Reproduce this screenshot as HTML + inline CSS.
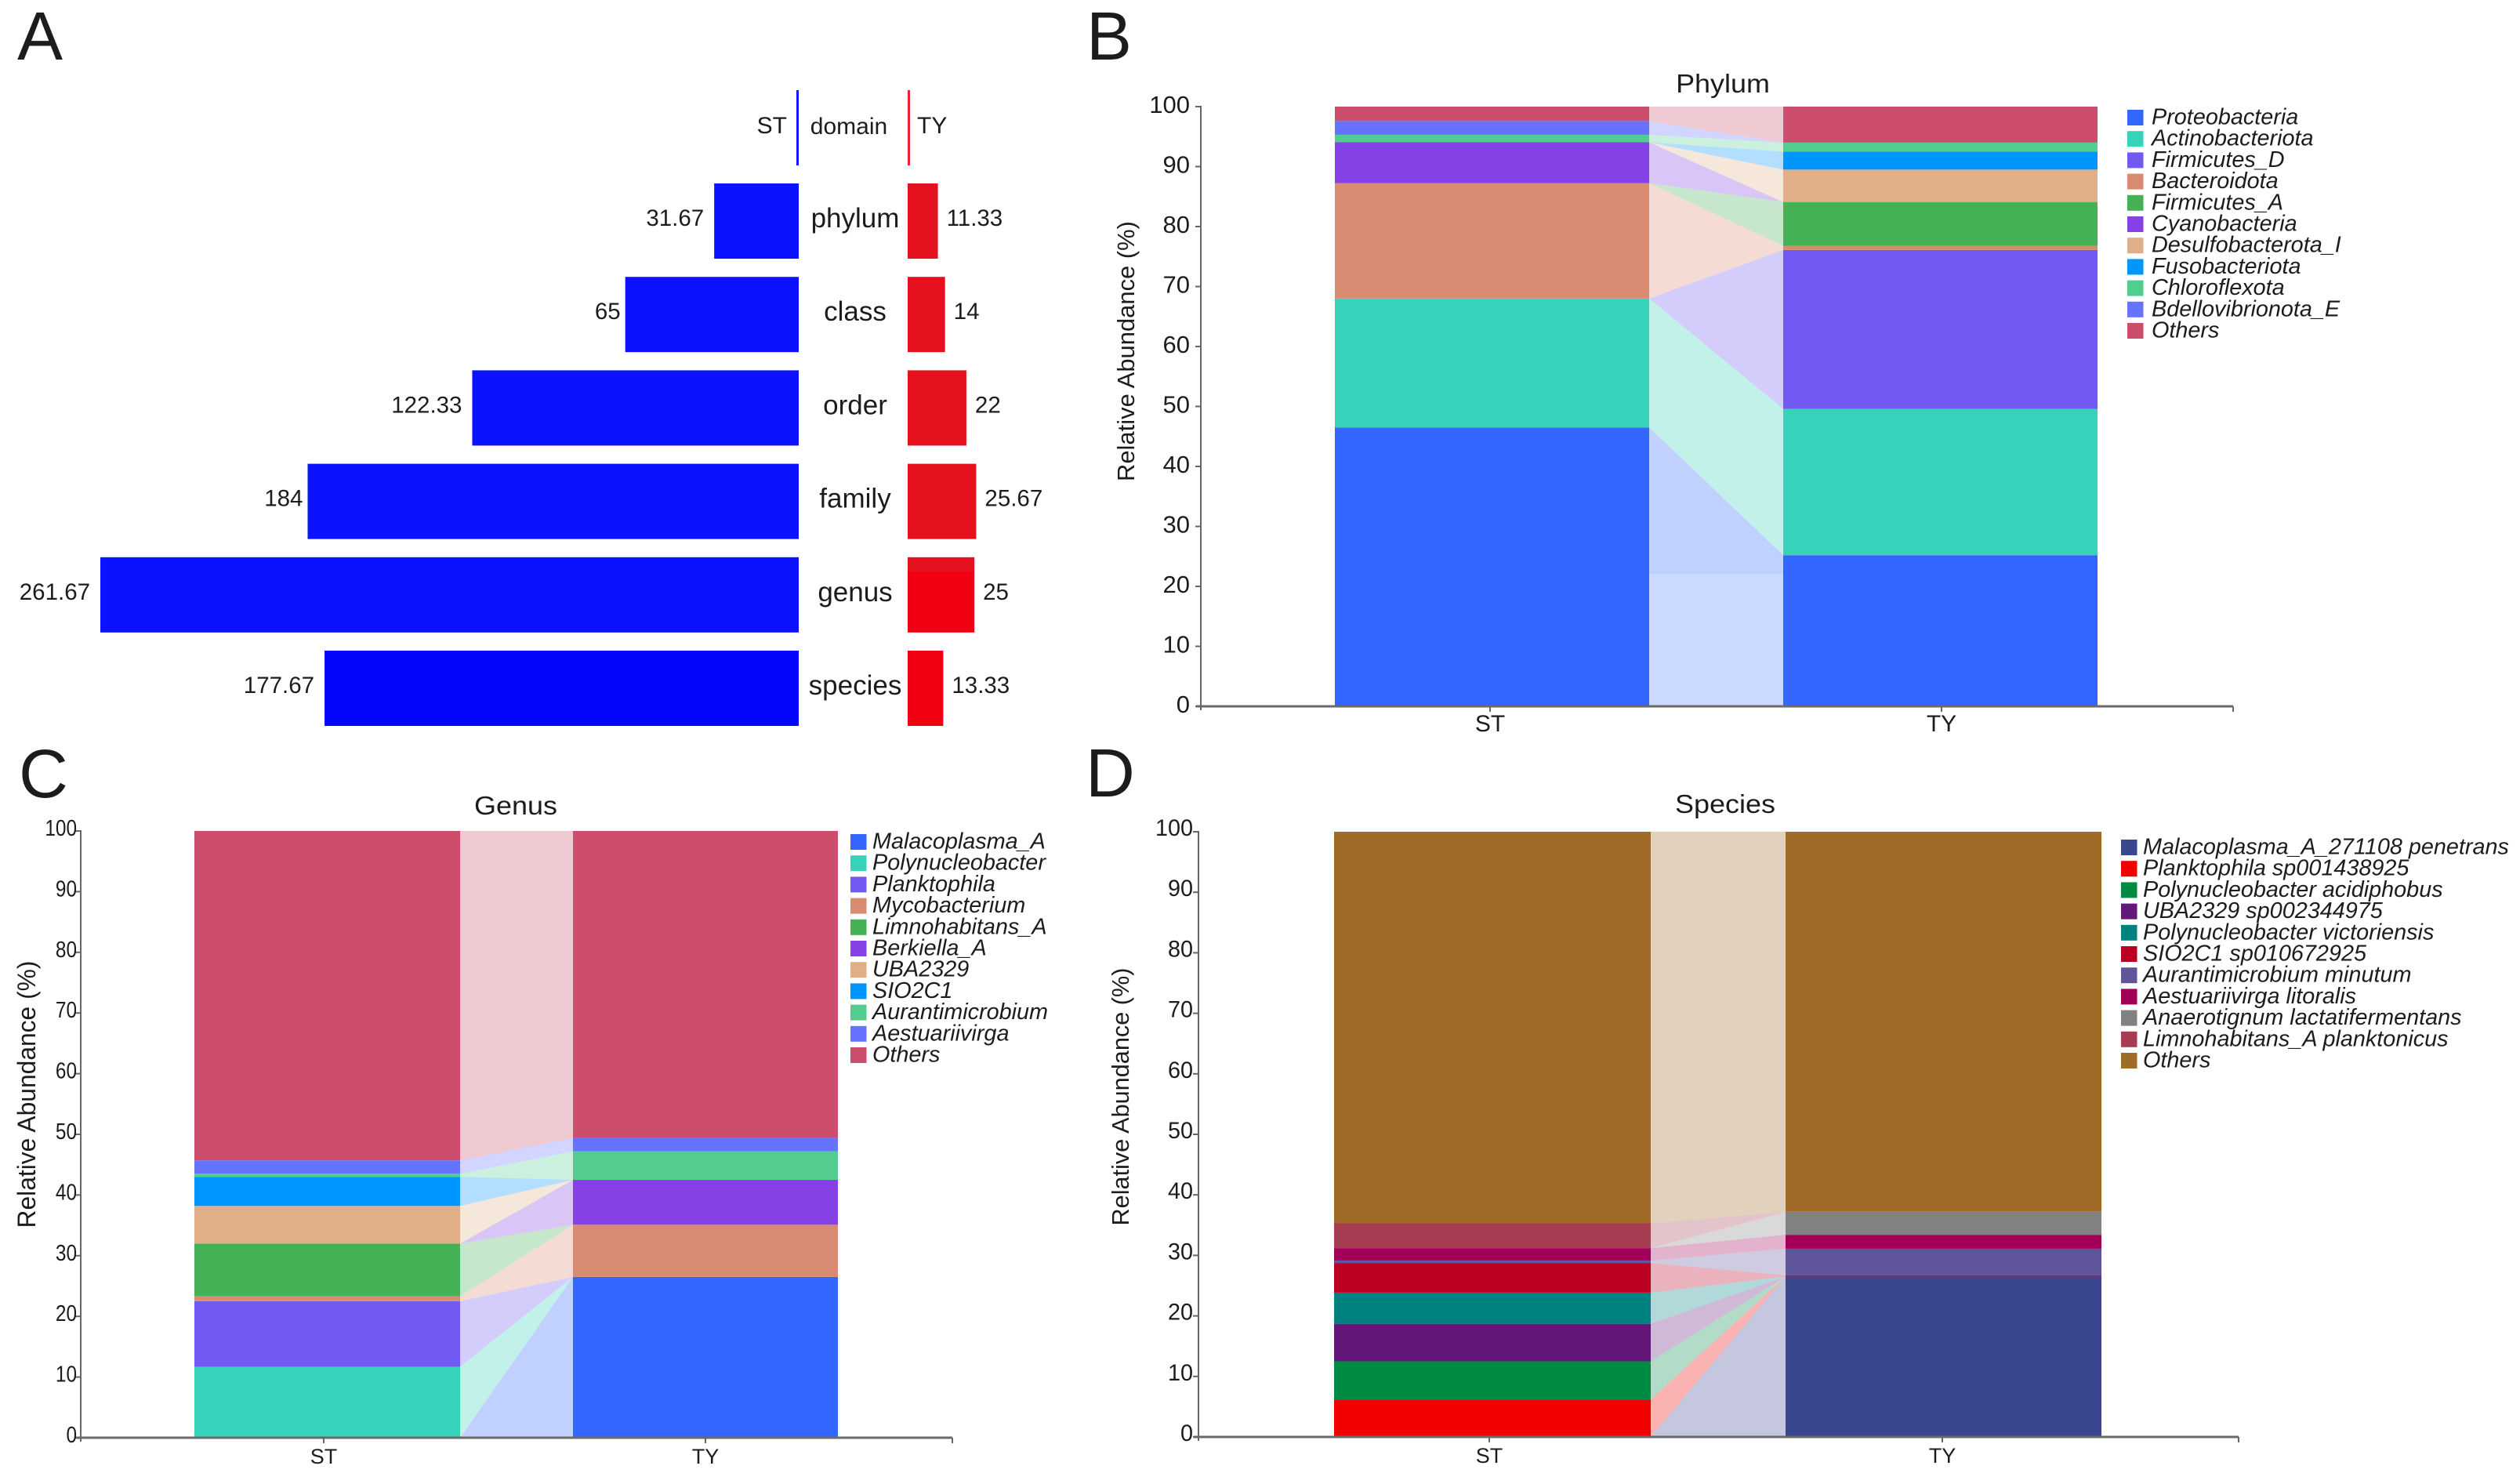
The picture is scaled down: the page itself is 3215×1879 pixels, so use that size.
<!DOCTYPE html>
<html lang="en">
<head>
<meta charset="utf-8">
<title>Taxonomic composition ST vs TY</title>
<style>
html,body{margin:0;padding:0;background:#fff}
svg{display:block}
text{font-family:"Liberation Sans",sans-serif;fill:#1c1c1c}
</style>
</head>
<body>
<svg id="figure" xmlns="http://www.w3.org/2000/svg" width="3215" height="1879" viewBox="0 0 3215 1879">
<defs>
<linearGradient id="stFill" gradientUnits="userSpaceOnUse" x1="0" y1="0" x2="0" y2="1879">
<stop offset="0.438" stop-color="#0a12ff"/><stop offset="0.438" stop-color="#0206fd"/>
</linearGradient>
<linearGradient id="tyFill" gradientUnits="userSpaceOnUse" x1="0" y1="0" x2="0" y2="1879">
<stop offset="0.388" stop-color="#e5111f"/><stop offset="0.388" stop-color="#f00010"/>
</linearGradient>
</defs>
<text x="22" y="76" font-size="87">A</text>
<text x="1386" y="76" font-size="87">B</text>
<text x="24" y="1017" font-size="87">C</text>
<text x="1385" y="1016" font-size="87">D</text>
</svg>
<script>
// ---- Panel A data ----
const rankCategories = ['phylum', 'class', 'order', 'family', 'genus', 'species'];
const rankST = [31.67, 65, 122.33, 184, 261.67, 177.67];
const rankTY = [11.33, 14, 22, 25.67, 25, 13.33];

// ---- Shared tick labels ----
const abundanceTicks = [0, 10, 20, 30, 40, 50, 60, 70, 80, 90, 100];
const groupLabels = ['ST', 'TY'];

// ---- Panel B data ----
const phylumNames = ['Proteobacteria', 'Actinobacteriota', 'Firmicutes_D', 'Bacteroidota', 'Firmicutes_A', 'Cyanobacteria', 'Desulfobacterota_I', 'Fusobacteriota', 'Chloroflexota', 'Bdellovibrionota_E', 'Others'];
const phylumST = [46.5, 21.5, 0, 19.25, 0, 6.8, 0, 0, 1.25, 2.3, 2.4];
const phylumTY = [25.2, 24.4, 26.5, 0.7, 7.3, 0, 5.4, 3, 1.5, 0, 6];
const phylumColors = ['#3366ff', '#36d2b9', '#7159f2', '#d98b72', '#45b156', '#8540e6', '#e0ae87', '#0096ff', '#52cc8f', '#6673ff', '#cc4e6c'];
const phylumPaleBandTop = 22;

// ---- Panel C data ----
const genusNames = ['Malacoplasma_A', 'Polynucleobacter', 'Planktophila', 'Mycobacterium', 'Limnohabitans_A', 'Berkiella_A', 'UBA2329', 'SIO2C1', 'Aurantimicrobium', 'Aestuariivirga', 'Others'];
const genusST = [0, 11.7, 10.8, 0.8, 8.7, 0, 6.2, 4.8, 0.5, 2.2, 54.3];
const genusTY = [26.5, 0, 0, 8.6, 0, 7.4, 0, 0, 4.7, 2.2, 50.6];
const genusColors = ['#3366ff', '#36d2b9', '#7159f2', '#d98b72', '#45b156', '#8540e6', '#e0ae87', '#0096ff', '#52cc8f', '#6673ff', '#cc4e6c'];

// ---- Panel D data ----
const speciesNames = ['Malacoplasma_A_271108 penetrans', 'Planktophila sp001438925', 'Polynucleobacter acidiphobus', 'UBA2329 sp002344975', 'Polynucleobacter victoriensis', 'SIO2C1 sp010672925', 'Aurantimicrobium minutum', 'Aestuariivirga litoralis', 'Anaerotignum lactatifermentans', 'Limnohabitans_A planktonicus', 'Others'];
const speciesST = [0, 6.2, 6.3, 6.2, 5.15, 4.9, 0.4, 2.05, 0, 4.1, 64.7];
const speciesTY = [26.5, 0, 0, 0, 0, 0.2, 4.4, 2.3, 3.8, 0, 62.8];
const speciesColors = ['#3a478f', '#f20000', '#008b45', '#631879', '#008280', '#bb0021', '#5f559b', '#a20056', '#808180', '#a73d52', '#a06b26'];

const svg = document.getElementById('figure');
const NS = 'http://www.w3.org/2000/svg';

function make(tag, props) {
  const el = document.createElementNS(NS, tag);
  for (const k in props) el.setAttribute(k, props[k]);
  svg.appendChild(el);
  return el;
}
function label(str, x, y, size, anchor, opts) {
  const o = opts || {};
  const el = make('text', {
    'font-size': size,
    'text-anchor': anchor,
    transform: 'translate(' + x + ' ' + y + ') rotate(' + (o.rotate || 0) + ') scale(' + (o.sx || 1) + ' 1)'
  });
  if (o.italic) el.setAttribute('font-style', 'italic');
  if (o.length) {
    el.setAttribute('textLength', o.length);
    el.setAttribute('lengthAdjust', 'spacingAndGlyphs');
  }
  el.textContent = str;
  return el;
}
function cumulative(values) {
  const out = [0];
  values.forEach(function (v) { out.push(out[out.length - 1] + v); });
  return out;
}

// ---- Panel A: back-to-back bars ----
function drawRankPanel() {
  const stZero = 1019, tyZero = 1158, pxPerUnit = 3.405;
  const firstTop = 234, rowStep = 119.2, rowHeight = 96;
  const stWidth = function (v) { return v * pxPerUnit; };
  const tyWidth = function (v) { return v * pxPerUnit; };

  const stLine = make('rect', { x: stZero - 3, y: 115, width: 3, height: 96, fill: '#1018ff' });
  
  
  const tyLine = make('rect', { x: tyZero, y: 115, width: 3, height: 96, fill: '#ee2233' });
  
  

  const stHead = label(groupLabels[0], 1004, 170, 30, 'end');
  
  
  const tyHead = label(groupLabels[1], 1170, 170, 30, 'start');
  
  
  const domain = label('domain', 1083, 171, 30, 'middle');
  
  

  rankCategories.forEach(function (rank, i) {
    const top = firstTop + rowStep * i;
    const mid = top + rowHeight / 2;
    const sw = stWidth(rankST[i]);
    const tw = tyWidth(rankTY[i]);

    const stBar = make('rect', { x: stZero - sw, y: top, width: sw, height: rowHeight, fill: 'url(#stFill)' });
    
    
    const tyBar = make('rect', { x: tyZero, y: top, width: tw, height: rowHeight, fill: 'url(#tyFill)' });
    
    

    const rankText = label(rank, 1091, mid + 8, 35, 'middle');
    
    
    const stGap = Number.isInteger(rankST[i]) ? 6 : 13;
    const stText = label(String(rankST[i]), stZero - sw - stGap, mid + 6, 29.5, 'end');
    
    
    const tyText = label(String(rankTY[i]), tyZero + tw + 11, mid + 6, 29.5, 'start');
    
    
  });
}

// ---- Panels B, C, D: stacked bars with linking ribbons ----
function drawStackPanel(p) {
  const y = function (v) { return p.y0 - (v / 100) * (p.y0 - p.y100); };
  const stCum = cumulative(p.st);
  const tyCum = cumulative(p.ty);
  const slug = p.slug;

  p.names.forEach(function (name, i) {
    const color = p.colors[i];
    const link = make('polygon', {
      points: [p.stRight, y(stCum[i]), p.stRight, y(stCum[i + 1]), p.tyLeft, y(tyCum[i + 1]), p.tyLeft, y(tyCum[i])].join(' '),
      fill: color,
      'fill-opacity': 0.3
    });
    
    

    const stRect = make('rect', { x: p.stLeft, y: y(stCum[i + 1]), width: p.stRight - p.stLeft, height: y(stCum[i]) - y(stCum[i + 1]), fill: color });
    
    

    const tyRect = make('rect', { x: p.tyLeft, y: y(tyCum[i + 1]), width: p.tyRight - p.tyLeft, height: y(tyCum[i]) - y(tyCum[i + 1]), fill: color });
    
    

    const cy = p.legendY + p.legendStep * i;
    const swatch = make('rect', { x: p.legendX, y: cy - 10, width: 20.5, height: 20, fill: color });
    
    
    const entry = label(name, p.legendX + p.legendGap, cy + 8.5, 28.8, 'start', { italic: true });
    
    
  });

  if (p.paleTop) {
    const band = make('rect', { x: p.stRight, y: y(p.paleTop), width: p.tyLeft - p.stRight, height: y(0) - y(p.paleTop), fill: '#fff', 'fill-opacity': 0.2 });
    
    
  }

  // axes
  const yAxis = make('line', { x1: p.axisX, x2: p.axisX, y1: y(100) - 1, y2: y(0) + 5, stroke: '#666', 'stroke-width': 2 });
  
  
  const xAxis = make('line', { x1: p.axisX - 6, x2: p.axisEnd, y1: y(0), y2: y(0), stroke: '#6a6a6a', 'stroke-width': 3 });
  
  
  const endTick = make('line', { x1: p.axisEnd, x2: p.axisEnd, y1: y(0), y2: y(0) + 7, stroke: '#666', 'stroke-width': 2 });
  
  

  abundanceTicks.forEach(function (t) {
    const tick = make('line', { x1: p.axisX - 7, x2: p.axisX, y1: y(t), y2: y(t), stroke: '#666', 'stroke-width': 2 });
    
    
    const tickText = label(String(t), p.axisX - p.tickGap, y(t) + p.tickDy, p.tickSize, 'end', { sx: p.tickSx });
    
    
  });

  groupLabels.forEach(function (g, i) {
    const cx = p.groupCenters[i];
    const tick = make('line', { x1: cx, x2: cx, y1: y(0), y2: y(0) + 7, stroke: '#666', 'stroke-width': 2 });
    
    
    const text = label(g, cx, p.xLabelY, p.xLabelSize, 'middle');
    
    
  });

  const yTitle = label('Relative Abundance (%)', p.yTitleX, p.yTitleY, p.yTitleSize, 'middle', { rotate: -90, length: p.yTitleLen });
  
  
  const title = label(p.title, p.titleX, p.titleY, 33, 'middle', { sx: p.titleSx });
  
  
}

drawRankPanel();

drawStackPanel({
  slug: 'phylum', title: 'Phylum', names: phylumNames, st: phylumST, ty: phylumTY, colors: phylumColors, paleTop: phylumPaleBandTop,
  y0: 901, y100: 136, stLeft: 1703, stRight: 2104, tyLeft: 2275, tyRight: 2676,
  axisX: 1532, axisEnd: 2849, groupCenters: [1901, 2477], xLabelY: 933, xLabelSize: 30,
  tickGap: 14, tickDy: 8, tickSize: 31, tickSx: 1, legendX: 2714, legendGap: 31, legendY: 150, legendStep: 27.2,
  yTitleX: 1447, yTitleY: 448, yTitleSize: 31, yTitleLen: 332, titleX: 2198, titleY: 118, titleSx: 1.09
});

drawStackPanel({
  slug: 'genus', title: 'Genus', names: genusNames, st: genusST, ty: genusTY, colors: genusColors, paleTop: 0,
  y0: 1834, y100: 1060, stLeft: 248, stRight: 587, tyLeft: 731, tyRight: 1069,
  axisX: 103, axisEnd: 1215, groupCenters: [413, 900], xLabelY: 1867, xLabelSize: 27,
  tickGap: 5, tickDy: 6, tickSize: 29, tickSx: 0.84, legendX: 1085, legendGap: 28, legendY: 1074, legendStep: 27.2,
  yTitleX: 45, yTitleY: 1396, yTitleSize: 32, yTitleLen: 341, titleX: 658, titleY: 1039, titleSx: 1.09
});

drawStackPanel({
  slug: 'species', title: 'Species', names: speciesNames, st: speciesST, ty: speciesTY, colors: speciesColors, paleTop: 0,
  y0: 1833, y100: 1061, stLeft: 1702, stRight: 2106, tyLeft: 2278, tyRight: 2681,
  axisX: 1529, axisEnd: 2856, groupCenters: [1900, 2478], xLabelY: 1866, xLabelSize: 27,
  tickGap: 7, tickDy: 5, tickSize: 30, tickSx: 0.96, legendX: 2706, legendGap: 28, legendY: 1081, legendStep: 27.2,
  yTitleX: 1440, yTitleY: 1399, yTitleSize: 31, yTitleLen: 329, titleX: 2201, titleY: 1037, titleSx: 1.09
});
</script>
</body>
</html>
